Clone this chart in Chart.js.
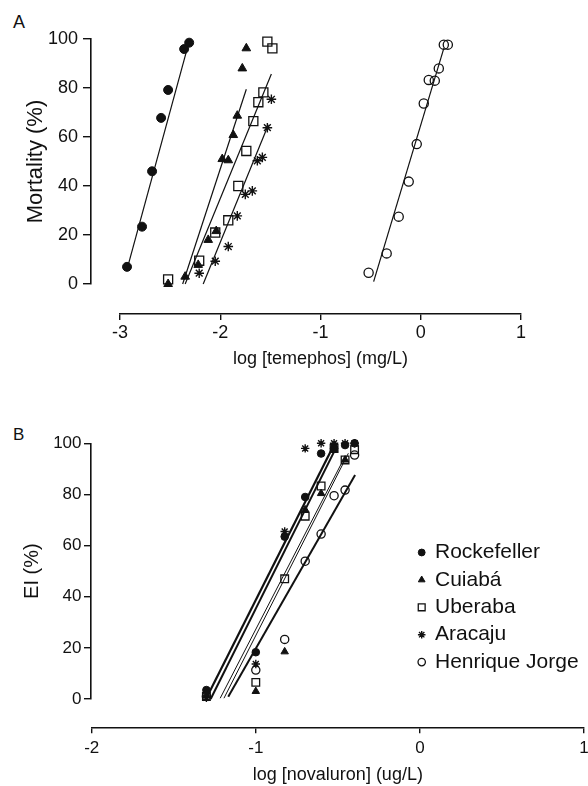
<!DOCTYPE html>
<html>
<head>
<meta charset="utf-8">
<script src="https://cdn.jsdelivr.net/npm/chart.js@4.4.1/dist/chart.umd.min.js"></script>
<style>
  html, body { margin: 0; padding: 0; background: #fff; }
  body { width: 588px; height: 786px; position: relative; overflow: hidden;
         font-family: 'Liberation Sans', Arial, Helvetica, sans-serif; color: #111; }
  .panel { position: absolute; left: 0; width: 588px; }
  #wrapA { top: 0; height: 380px; }
  #wrapB { top: 390px; height: 396px; }
  .tag { position: absolute; left: 13px; line-height: 1; }
</style>
</head>
<body>
<div class="tag" style="top:13px;font-size:18px">A</div>
<div class="tag" style="top:426px;font-size:17px">B</div>
<div class="panel" id="wrapA"><canvas id="chartA"></canvas></div>
<div class="panel" id="wrapB"><canvas id="chartB"></canvas></div>
<script>
// populations (same order in both panels)
const populations = ['Rockefeller', 'Cuiabá', 'Uberaba', 'Aracaju', 'Henrique Jorge'];

// Panel A - mortality vs log [temephos]
const temRockX = [-2.93, -2.78, -2.68, -2.59, -2.52, -2.36, -2.31];
const temRockY = [7, 23.4, 46, 67.8, 79.2, 95.9, 98.5];
const temCuiX = [-2.52, -2.35, -2.22, -2.12, -2.04, -1.98, -1.92, -1.87, -1.83, -1.78, -1.74];
const temCuiY = [0, 3, 7.8, 18, 21.6, 51, 50.5, 60.8, 68.7, 88, 96.2];
const temUbeX = [-2.52, -2.21, -2.05, -1.92, -1.82, -1.74, -1.67, -1.62, -1.57, -1.53, -1.48];
const temUbeY = [1.9, 9.5, 21, 26, 40, 54.3, 66.5, 74.2, 78.2, 98.9, 96.2];
const temAraX = [-2.21, -2.05, -1.92, -1.83, -1.75, -1.68, -1.63, -1.58, -1.53, -1.49];
const temAraY = [4.4, 9.3, 15.3, 27.8, 36.6, 38, 50.3, 51.7, 63.8, 75.4];
const temHenX = [-0.52, -0.34, -0.22, -0.12, -0.04, 0.03, 0.08, 0.14, 0.18, 0.23, 0.27];
const temHenY = [4.6, 12.5, 27.5, 41.8, 57.1, 73.7, 83.3, 83, 88, 97.7, 97.7];

// regression lines of panel A (end points)
const temRockFitX = [-2.93, -2.31], temRockFitY = [6, 99];
const temCuiFitX = [-2.375, -1.74], temCuiFitY = [0, 79.5];
const temUbeFitX = [-2.35, -1.49], temUbeFitY = [0, 85.7];
const temAraFitX = [-2.17, -1.52], temAraFitY = [0, 65];
const temHenFitX = [-0.47, 0.23], temHenFitY = [1, 96.2];

// Panel B - EI vs log [novaluron]
const novDoseX = [-1.301, -1, -0.824, -0.699, -0.602, -0.523, -0.456, -0.398];
const novRockY = [3.5, 18.3, 63.5, 79, 96, 98, 99.3, 100];
const novCuiY = [1.5, 3, 18.5, 74, 80.4, 97.5, 93.5, 100];
const novUbeY = [1, 6.5, 47, 71.5, 83.3, 98, 93.5, 97.5];
const novAraY = [0.5, 13.7, 65.5, 98, 100, 100, 100, 100];
const novHenY = [1, 11.3, 23.3, 53.9, 64.5, 79.5, 81.7, 95.4];

const novRockFitX = [-1.30, -0.535], novRockFitY = [0.5, 98];
const novCuiFitX = [-1.217, -0.467], novCuiFitY = [0.3, 93.5];
const novUbeFitX = [-1.194, -0.436], novUbeFitY = [0.3, 96.1];
const novAraFitX = [-1.275, -0.505], novAraFitY = [0, 99];
const novHenFitX = [-1.168, -0.395], novHenFitY = [0.9, 87.6];

// tick labels
const temTicks = [-3, -2, -1, 0, 1];
const novTicks = [-2, -1, 0, 1];
const pctTicks = [0, 20, 40, 60, 80, 100];

const INK = '#111';
const FONT = "'Liberation Sans', Arial, Helvetica, sans-serif";

// marker look per population
const marks = [
    { pointStyle: 'circle',   fill: INK,           bw: 1 },
    { pointStyle: 'triangle', fill: INK,           bw: 1 },
    { pointStyle: 'rect',     fill: 'transparent', bw: 1.3 },
    { pointStyle: 'star',     fill: 'transparent', bw: 1.4 },
    { pointStyle: 'circle',   fill: 'transparent', bw: 1.3 }
];
const radiiA = [4.5, 5, 6.4, 4.8, 4.6];
const radiiB = [3.8, 4.3, 5.4, 4.2, 4.1];
const fitWidthA = [1.2, 1.2, 1.2, 1.2, 1.2];
const fitWidthB = [2.2, 1, 1, 2, 2];

const pts = (xs, ys) => xs.map((x, i) => ({ x: x, y: ys[i] }));

function buildDatasets(series, fits, radii, fitWidths) {
    const scatter = series.map((s, i) => ({
        label: populations[i],
        data: pts(s[0], s[1]),
        pointStyle: marks[i].pointStyle,
        pointRadius: radii[i],
        pointBackgroundColor: marks[i].fill,
        pointBorderColor: INK,
        pointBorderWidth: marks[i].bw,
        showLine: false,
        clip: false,
        order: 1
    }));
    const lines = fits.map((f, i) => ({
        isFit: true,
        data: pts(f[0], f[1]),
        showLine: true,
        borderColor: INK,
        borderWidth: fitWidths[i],
        pointRadius: 0,
        clip: false,
        order: 2
    }));
    return scatter.concat(lines);
}

// move the x axis line / y axis line to the spans used in the figure (detached axes)
const pinAxes = {
    id: 'pinAxes',
    afterLayout(chart, args, o) {
        const xs = chart.scales.x, ys = chart.scales.y;
        xs.left = o.xLeft; xs.right = o.xRight; xs.width = o.xRight - o.xLeft;
        ys.top = o.yTop; ys.bottom = o.yBottom; ys.height = o.yBottom - o.yTop;
        xs.configure();
        ys.configure();
    }
};

// legend drawn inside the plot at a fixed spot
const pointLegend = {
    id: 'pointLegend',
    afterDraw(chart, args, o) {
        if (!o.show) return;
        const ctx = chart.ctx;
        const items = chart.data.datasets.filter(d => !d.isFit);
        ctx.save();
        ctx.font = o.font;
        ctx.textBaseline = 'middle';
        ctx.textAlign = 'left';
        items.forEach((d, i) => {
            const y = o.top + i * o.step;
            ctx.fillStyle = d.pointBackgroundColor;
            ctx.strokeStyle = d.pointBorderColor;
            ctx.lineWidth = d.pointBorderWidth;
            Chart.helpers.drawPoint(ctx, {
                pointStyle: d.pointStyle,
                radius: d.pointRadius * 0.9,
                borderWidth: d.pointBorderWidth,
                rotation: 0
            }, o.x, y);
            ctx.fillStyle = INK;
            ctx.fillText(d.label, o.textX, y);
        });
        ctx.restore();
    }
};

function makeChart(id, p) {
    return new Chart(document.getElementById(id), {
        type: 'scatter',
        data: { datasets: p.datasets },
        plugins: [pinAxes, pointLegend],
        options: {
            responsive: true,
            maintainAspectRatio: false,
            animation: false,
            events: [],
            layout: { padding: { left: 0, right: p.padRight, top: 0, bottom: 0 } },
            plugins: {
                legend: { display: false },
                tooltip: { enabled: false },
                pinAxes: p.pin,
                pointLegend: p.legend
            },
            scales: {
                x: {
                    type: 'linear',
                    min: p.xTicks[0],
                    max: p.xTicks[p.xTicks.length - 1],
                    afterBuildTicks: s => { s.ticks = p.xTicks.map(v => ({ value: v })); },
                    afterFit: s => { s.height = p.xHeight; },
                    grid: { drawOnChartArea: false, drawTicks: true, tickLength: 6, color: INK, lineWidth: 1.4 },
                    border: { display: true, color: INK, width: 1.6 },
                    ticks: { color: INK, padding: p.xTickPad, font: { family: FONT, size: p.tickSize }, maxRotation: 0 },
                    title: { display: true, text: p.xTitle, color: INK,
                             font: { family: FONT, size: 18 }, padding: { top: 0, bottom: p.xTitlePad } }
                },
                y: {
                    type: 'linear',
                    min: 0,
                    max: 100,
                    afterBuildTicks: s => { s.ticks = pctTicks.map(v => ({ value: v })); },
                    afterFit: s => { s.width = 91; },
                    grid: { drawOnChartArea: false, drawTicks: true, tickLength: p.yTickLen, color: INK, lineWidth: 1.4 },
                    border: { display: true, color: INK, width: 1.6 },
                    ticks: { color: INK, padding: p.yTickPad, font: { family: FONT, size: p.tickSize } },
                    title: { display: true, text: p.yTitle, color: INK,
                             font: { family: FONT, size: p.yTitleSize }, padding: { top: p.yTitlePad, bottom: 0 } }
                }
            }
        }
    });
}

makeChart('chartA', {
    datasets: buildDatasets(
        [[temRockX, temRockY], [temCuiX, temCuiY], [temUbeX, temUbeY], [temAraX, temAraY], [temHenX, temHenY]],
        [[temRockFitX, temRockFitY], [temCuiFitX, temCuiFitY], [temUbeFitX, temUbeFitY],
         [temAraFitX, temAraFitY], [temHenFitX, temHenFitY]],
        radiiA, fitWidthA),
    xTicks: temTicks,
    padRight: 40,
    xHeight: 66,
    xTickPad: 2,
    xTitle: 'log [temephos] (mg/L)',
    xTitlePad: 10,
    yTitle: 'Mortality (%)',
    yTitleSize: 22,
    yTitlePad: 22.6,
    yTickLen: 8,
    yTickPad: 5,
    tickSize: 18,
    pin: { xLeft: 120, xRight: 521, yTop: 39, yBottom: 284 },
    legend: { show: false }
});

makeChart('chartB', {
    datasets: buildDatasets(
        [[novDoseX, novRockY], [novDoseX, novCuiY], [novDoseX, novUbeY], [novDoseX, novAraY], [novDoseX, novHenY]],
        [[novRockFitX, novRockFitY], [novCuiFitX, novCuiFitY], [novUbeFitX, novUbeFitY],
         [novAraFitX, novAraFitY], [novHenFitX, novHenFitY]],
        radiiB, fitWidthB),
    xTicks: novTicks,
    padRight: 0,
    xHeight: 58.7,
    xTickPad: 5,
    xTitle: 'log [novaluron] (ug/L)',
    xTitlePad: 0,
    yTitle: 'EI (%)',
    yTitleSize: 20,
    yTitlePad: 20.5,
    yTickLen: 7,
    yTickPad: 2.5,
    tickSize: 17,
    pin: { xLeft: 91.7, xRight: 584, yTop: 53.3, yBottom: 309 },
    legend: { show: true, x: 421.7, textX: 435, top: 162.5, step: 27.4,
              font: "21px 'Liberation Sans', Arial, Helvetica, sans-serif" }
});
</script>
</body>
</html>
